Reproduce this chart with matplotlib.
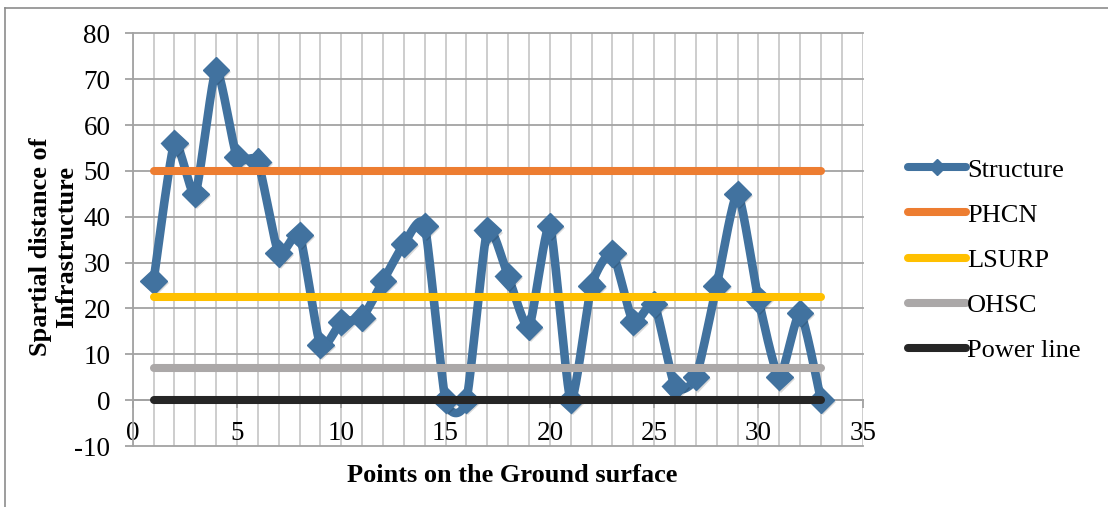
import numpy as np
import matplotlib
matplotlib.use("Agg")
import matplotlib.pyplot as plt
from matplotlib.lines import Line2D
from matplotlib.ticker import MultipleLocator
import matplotlib.patheffects as pe

# ---- data ----
points = list(range(1, 34))
structure = [26, 56, 45, 72, 53, 52, 32, 36, 12, 17, 18, 26, 34, 38, 0, 0,
             37, 27, 16, 38, 0, 25, 32, 17, 21, 3, 5, 25, 45, 22, 5, 19, 0]
phcn_level = 50
lsurp_level = 22.5
ohsc_level = 7
power_line_level = 0

series_names = ["Structure", "PHCN", "LSURP", "OHSC", "Power line"]
x_ticks = [0, 5, 10, 15, 20, 25, 30, 35]
y_ticks = [-10, 0, 10, 20, 30, 40, 50, 60, 70, 80]

# ---- style ----
plt.rcParams["font.family"] = ["Liberation Serif", "DejaVu Serif"]
plt.rcParams["axes.unicode_minus"] = False
col_struct = "#41729F"
col_phcn = "#ED7D31"
col_lsurp = "#FFC000"
col_ohsc = "#ABA8A8"
col_power = "#262626"


def smooth_curve(xs, ys, n=40, k=0.1):
    """Parametric cubic Bezier smoothing through every point."""
    P = np.column_stack([xs, ys]).astype(float)
    ext = np.vstack([P[0], P, P[-1]])
    out = []
    t = np.linspace(0, 1, n)[:, None]
    for i in range(len(P) - 1):
        p0, p1 = P[i], P[i + 1]
        c1 = p0 + (ext[i + 2] - ext[i]) * k
        c2 = p1 - (ext[i + 3] - ext[i + 1]) * k
        seg = ((1 - t) ** 3) * p0 + 3 * ((1 - t) ** 2) * t * c1 \
            + 3 * (1 - t) * t ** 2 * c2 + t ** 3 * p1
        out.append(seg if i == 0 else seg[1:])
    seg = np.vstack(out)
    return seg[:, 0], seg[:, 1]


W, H = 1108, 507
fig = plt.figure(figsize=(W / 100, H / 100), dpi=100)
ax = fig.add_axes([132.7 / W, 61 / H, 730 / W, 412.7 / H])

ax.set_xlim(0, 35)
ax.set_ylim(-10, 80)

# grid
ax.xaxis.set_minor_locator(MultipleLocator(1))
ax.set_xticks(x_ticks)
ax.set_yticks(y_ticks)
ax.grid(which="both", axis="x", color="#c9c9c9", lw=1.3)
ax.grid(which="major", axis="y", color="#a3a3a3", lw=1.3)
ax.set_axisbelow(True)
for gl in ax.get_xgridlines() + ax.get_ygridlines():
    gl.set_clip_on(False)

for s in ["top", "right"]:
    ax.spines[s].set_visible(False)
ax.spines["bottom"].set_position(("data", 0))
ax.spines["bottom"].set_color("#a3a3a3")
ax.spines["left"].set_color("#a3a3a3")
ax.spines["bottom"].set_linewidth(1.3)
ax.spines["left"].set_linewidth(1.3)
ax.tick_params(axis="both", which="major", direction="out", length=6,
               width=1.3, color="#a3a3a3", labelsize=19.5)
ax.tick_params(axis="x", which="minor", length=0)
ax.tick_params(axis="x", pad=9)
ax.tick_params(axis="y", pad=10)

# structure series
sx, sy = smooth_curve(points, structure)
ax.plot(sx, sy, color=col_struct, lw=6.2, solid_capstyle="round",
        solid_joinstyle="round", zorder=3)
mshadow = [pe.SimplePatchShadow(offset=(1.5, -1.5), shadow_rgbFace="k", alpha=0.15),
           pe.Normal()]
ax.plot(points, structure, linestyle="none", marker="D", markersize=13.5,
        color=col_struct, zorder=3.1, path_effects=mshadow)

# reference levels
x_span = [points[0], points[-1]]
levels = [phcn_level, lsurp_level, ohsc_level, power_line_level]
cols = [col_phcn, col_lsurp, col_ohsc, col_power]
for lev, c in zip(levels, cols):
    ax.plot(x_span, [lev, lev], color=c, lw=5.8, solid_capstyle="round", zorder=4)

# legend
handles = [Line2D([], [], color=col_struct, lw=5.8, marker="D", markersize=8,
                  solid_capstyle="round")]
handles += [Line2D([], [], color=c, lw=5.8, solid_capstyle="round") for c in cols]
fig.legend(handles, series_names, loc="center left",
           bbox_to_anchor=(908 / W, (H - 260) / H), frameon=False,
           fontsize=19, handlelength=2.2, handletextpad=0.05,
           labelspacing=0.82, borderpad=0, borderaxespad=0)

# axis titles
fig.text(53.5 / W, (H - 247) / H, "Spartial distance of\nInfrastructure",
         rotation=90, ha="center", va="center", multialignment="center",
         fontsize=19, fontweight="bold")
fig.text(512 / W, (H - 476) / H, "Points on the Ground surface",
         ha="center", va="center", fontsize=19, fontweight="bold")

# outer chart border
fig.add_artist(Line2D([5 / W, 1], [1 - 8 / H, 1 - 8 / H], color="#8c8c8c", lw=1.2,
                      transform=fig.transFigure))
fig.add_artist(Line2D([5 / W, 5 / W], [0, 1 - 8 / H], color="#8c8c8c", lw=1.2,
                      transform=fig.transFigure))

fig.savefig("out.png", dpi=100)
